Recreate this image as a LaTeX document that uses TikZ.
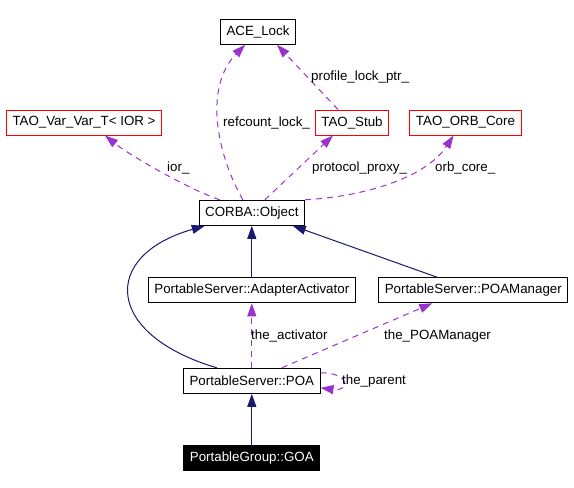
\documentclass[tikz,border=0pt]{standalone}
\usepackage{fontspec}
\setmainfont{Liberation Sans}
\usetikzlibrary{arrows.meta}
\definecolor{inhblue}{RGB}{25,25,112}
\definecolor{usepurple}{RGB}{154,50,205}

\begin{document}
\begin{tikzpicture}[x=1pt, y=-1pt,
  box/.style={draw, line width=1pt, inner xsep=6pt, inner ysep=0pt, minimum height=25pt, font=\fontsize{13.33}{16}\selectfont},
  redbox/.style={box, draw=red},
  lbl/.style={right, inner sep=0pt, font=\fontsize{13.33}{16}\selectfont},
  inherit/.style={-{Triangle[length=13pt, width=9pt]}, inhblue, line width=1pt},
  member/.style={-{Triangle[length=13pt, width=9pt]}, usepurple, line width=1pt, dash pattern=on 6pt off 5pt}]
\useasboundingbox (0,0) rectangle (574,488);
% classes
\node (ace) at (258,31.8) [box] {ACE\_Lock};
\node (var) at (84,122.5) [redbox] {TAO\_Var\_Var\_T< IOR >};
\node (stub) at (352,122.5) [redbox] {TAO\_Stub};
\node (orb) at (465.5,122.5) [redbox] {TAO\_ORB\_Core};
\node (obj) at (251.8,212.8) [box] {CORBA::Object};
\node (act) at (251.8,290.3) [box] {PortableServer::AdapterActivator};
\node (mgr) at (473.3,290.3) [box] {PortableServer::POAManager};
\node (poa) at (251.8,380.8) [box] {PortableServer::POA};
\node (goa) at (251.8,458.3) [box, fill=black, text=white] {PortableGroup::GOA};
% members of CORBA::Object
\draw [member] ([xshift=-32pt]obj.north) .. controls +(-30,-10) and +(25,20) .. ([xshift=21pt]var.south);
\draw [member] ([xshift=-9pt]obj.north) .. controls +(-28,-50) and +(-40,41) .. ([xshift=-13pt]ace.south);
\draw [member] ([xshift=-14pt]stub.north) -- ([xshift=19pt]ace.south);
\draw [member] ([xshift=13pt]obj.north) -- ([xshift=-19pt]stub.south);
\draw [member] (obj.north east) .. controls +(57,-3) and +(-28,43) .. ([xshift=-12pt]orb.south);
\node (l1) at (167,168) [lbl] {ior\_};
\node (l2) at (223,123) [lbl] {refcount\_lock\_};
\node (l3) at (311,77) [lbl] {profile\_lock\_ptr\_};
\node (l4) at (312,168) [lbl] {protocol\_proxy\_};
\node (l5) at (435,168) [lbl] {orb\_core\_};
% inheritance
\draw [inherit] ([xshift=-35pt]poa.north) .. controls +(-112,-33) and +(-105,30) .. ([xshift=-47pt]obj.south);
\draw [inherit] (act.north) -- (act.north |- obj.south);
\draw [inherit] ([xshift=-36pt]mgr.north) -- ([xshift=41pt]obj.south);
\draw [inherit] (goa.north) -- (poa.south);
% members of PortableServer::POA
\draw [member] (poa.north) -- (act.south);
\draw [member] ([xshift=30pt]poa.north) -- ([xshift=-41pt]mgr.south);
\draw [member] ([yshift=8pt]poa.east) .. controls +(31,0) and +(29,4) .. ([yshift=-7pt]poa.east);
\node (l6) at (251,336) [lbl] {the\_activator};
\node (l7) at (384,336) [lbl] {the\_POAManager};
\node (l8) at (342,381) [lbl] {the\_parent};
\end{tikzpicture}
\end{document}
